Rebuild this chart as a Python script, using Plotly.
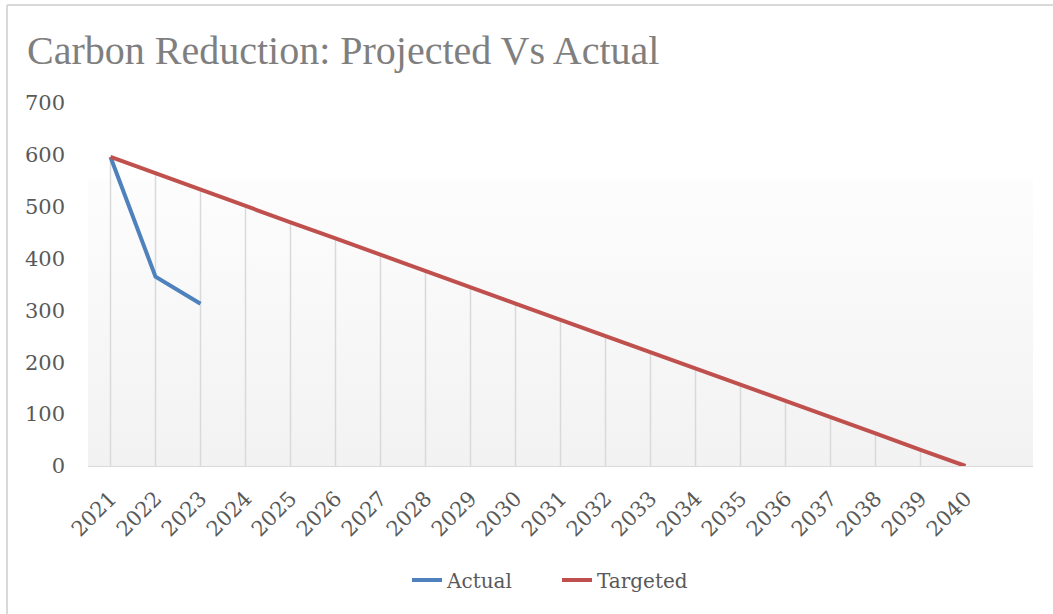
import plotly.graph_objects as go

years = [str(y) for y in range(2021, 2041)]
actual = [596, 365, 313]
targeted = [596, 564, 533, 502, 470, 439, 407, 376, 345, 313, 282, 251, 219, 188, 157, 125, 94, 63, 31, 0]
y_ticks = [0, 100, 200, 300, 400, 500, 600, 700]

TFONT = "Liberation Serif"
FONT = "DejaVu Serif"
pos = list(range(len(years)))

W, H = 1053, 614

fig = go.Figure()

# plot-area gradient backdrop
fig.add_trace(go.Scatter(
    x=[-0.5, 20.5, 20.5, -0.5, -0.5], y=[0, 0, 553, 553, 0],
    mode="lines", line=dict(width=0), fill="toself",
    fillgradient=dict(type="vertical", colorscale=[[0, "#f2f2f2"], [1, "#fdfdfd"]]),
    hoverinfo="skip", showlegend=False))

# drop lines
dx, dy = [], []
for p, v in zip(pos, targeted):
    dx += [p, p, None]
    dy += [0, v, None]
fig.add_trace(go.Scatter(x=dx, y=dy, mode="lines", line=dict(color="#d9d9d9", width=1.5),
                         hoverinfo="skip", showlegend=False))

fig.add_trace(go.Scatter(x=pos[:len(actual)], y=actual, mode="lines", name="Actual",
                         line=dict(color="#4f81bd", width=4)))
fig.add_trace(go.Scatter(x=pos, y=targeted, mode="lines", name="Targeted",
                         line=dict(color="#c0504d", width=4)))

fig.update_layout(
    width=W, height=H,
    margin=dict(l=88, r=20, t=103, b=148),
    paper_bgcolor="white", plot_bgcolor="rgba(0,0,0,0)",
    font=dict(family=FONT, color="#595959", size=20),
    title=dict(text="Carbon Reduction: Projected Vs Actual", x=27 / W, xref="container",
               xanchor="left", y=1 - 50 / H, yref="container", yanchor="middle",
               font=dict(family=TFONT, size=40, color="#7f7f7f")),
    xaxis=dict(range=[-0.5, 20.5], tickmode="array", tickvals=pos, ticktext=years,
               tickangle=-45, showgrid=False, zeroline=False, showline=False,
               ticks="", ticklabelstandoff=15, tickfont=dict(family=FONT, size=21, color="#595959")),
    yaxis=dict(range=[0, 700], tickvals=y_ticks, showgrid=False, zeroline=True,
               zerolinecolor="#d9d9d9", zerolinewidth=1.5, showline=False, ticks="",
               ticklabelstandoff=22, tickfont=dict(family=FONT, size=21, color="#595959")),
    legend=dict(orientation="h", x=407 / W, xanchor="left", xref="container",
                y=1 - 580 / H, yref="container", yanchor="middle", entrywidth=105,
                font=dict(family=FONT, size=20, color="#595959")),
    shapes=[
        dict(type="line", xref="paper", yref="paper", x0=-81/945, x1=-81/945,
             y0=1+98/363, y1=-200/363, line=dict(color="#d9d9d9", width=2)),
        dict(type="line", xref="paper", yref="paper", x0=-81/945, x1=1.2,
             y0=1+98/363, y1=1+98/363, line=dict(color="#d9d9d9", width=2)),
    ],
)

fig.write_html("out.html", config={"displayModeBar": False},
               post_script="document.body.style.margin='0';document.body.style.overflow='hidden';")
